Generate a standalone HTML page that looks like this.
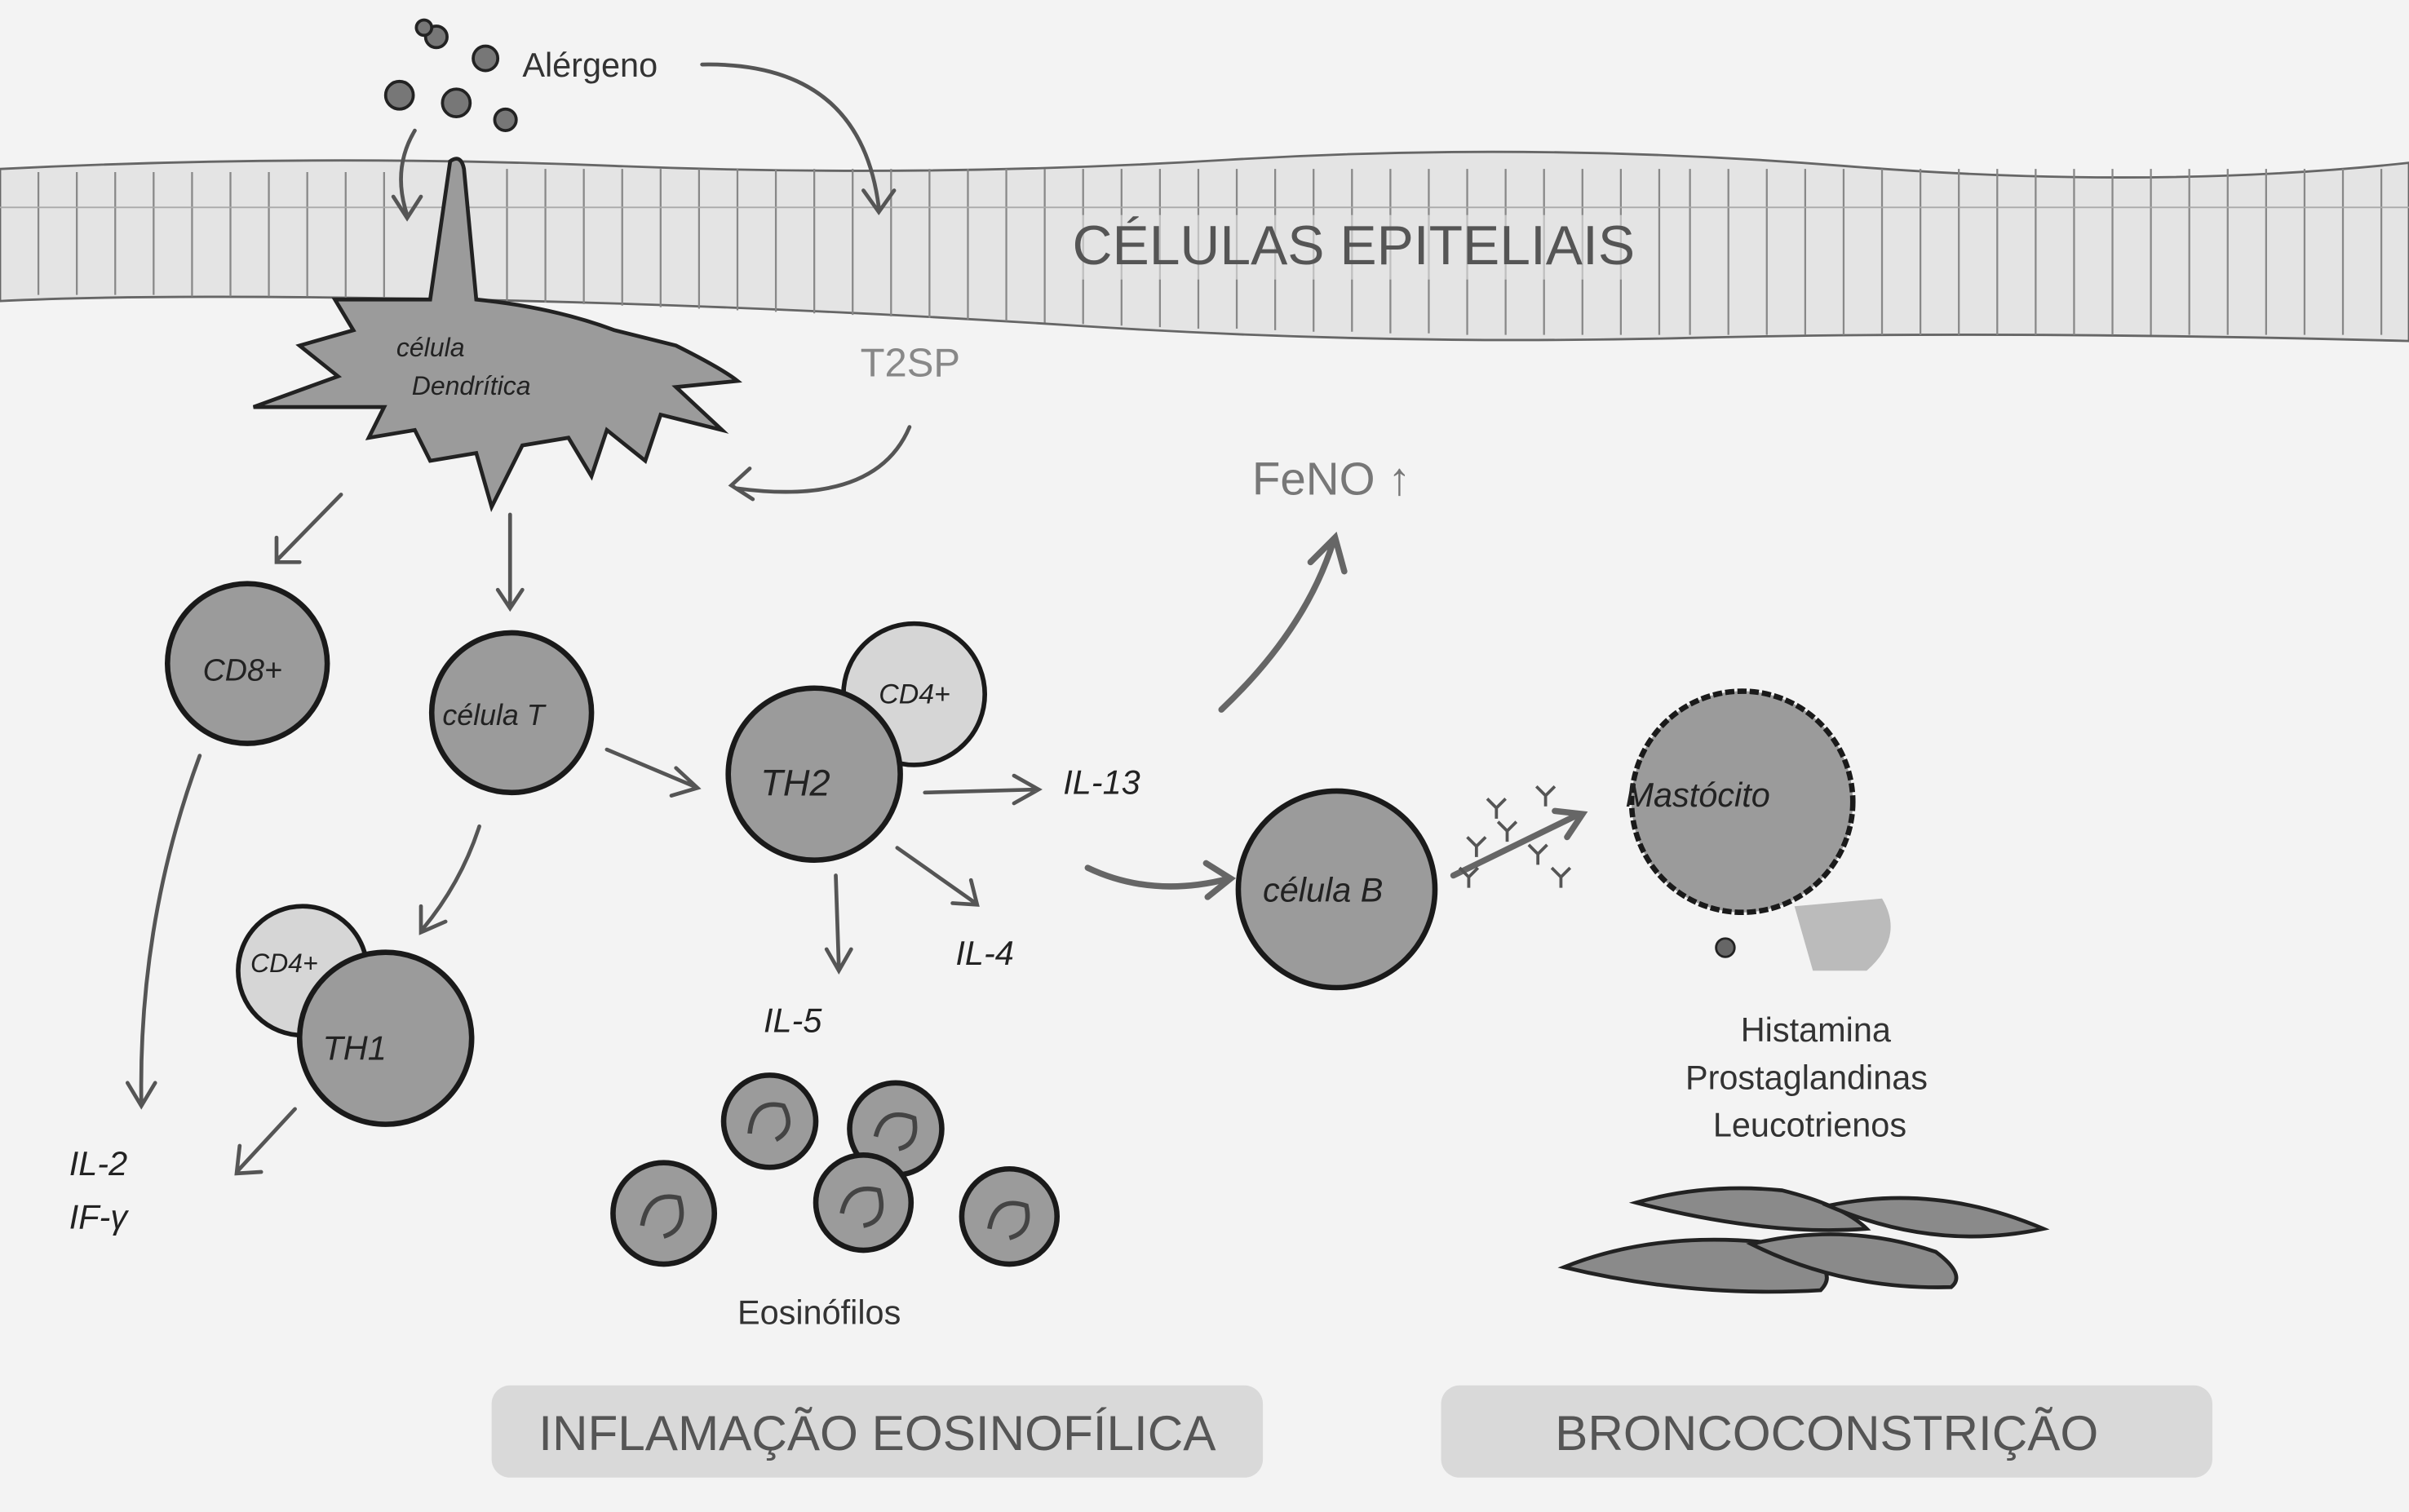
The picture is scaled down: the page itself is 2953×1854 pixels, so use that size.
<!DOCTYPE html>
<html><head><meta charset="utf-8"><style>
html,body{margin:0;padding:0;background:#f3f3f3;}
svg{display:block;}
.h{font-family:"Liberation Sans",sans-serif;fill:#333;}
.hw{font-family:"Liberation Sans",sans-serif;fill:#222;font-style:italic;}
.c{fill:#9b9b9b;stroke:#1a1a1a;stroke-width:3.5;}
.cl{fill:#d6d6d6;stroke:#1a1a1a;stroke-width:3;}
.a{fill:none;stroke:#555;stroke-width:2.5;stroke-linecap:round;}
.ad{fill:none;stroke:#666;stroke-width:4;stroke-linecap:round;}
</style></head><body>
<svg width="2953" height="1854" viewBox="0 0 1568 984.4" preserveAspectRatio="none" xmlns="http://www.w3.org/2000/svg">
<rect width="1568" height="985" fill="#f3f3f3"/>
<!-- epithelium -->
<path d="M0,110 Q200,100 400,108 T800,104 T1200,108 T1568,106 L1568,222 Q1300,215 1100,220 T700,212 T300,195 T0,196 Z" fill="#e4e4e4" stroke="#666" stroke-width="1.5"/>
<g stroke="#888" stroke-width="1.2">
<path d="M25,112V192M50,112V192M75,112V192M100,112V192M125,112V193M150,112V193M175,112V193M200,112V193M225,112V194M250,112V194M330,110V196M355,110V197M380,110V198M405,110V199M430,110V200M455,110V201M480,110V202M505,110V203M530,110V204M555,110V205M580,110V206M605,110V207M630,110V208M655,110V209M680,110V210M705,110V211M730,110V212M755,110V213M780,110V214M805,110V214M830,110V215M855,110V216M880,110V216M905,110V217M930,110V217M955,110V218M980,110V218M1005,110V218M1030,110V218M1055,110V218M1080,110V218M1100,110V218M1125,110V218M1150,110V218M1175,110V218M1200,110V218M1225,110V218M1250,110V218M1275,110V218M1300,110V218M1325,110V218M1350,110V218M1375,110V218M1400,110V218M1425,110V218M1450,110V218M1475,110V218M1500,110V218M1525,110V218M1550,110V218"/>
<path d="M0,135 H1568" stroke="#aaa" stroke-width="1"/>
</g>
<rect x="690" y="140" width="385" height="42" fill="#e4e4e4" opacity="0.6"/>
<text x="698" y="172" font-family="Liberation Sans,sans-serif" font-size="36" style="fill:#555">CÉLULAS EPITELIAIS</text>
<!-- allergen -->
<g fill="#777" stroke="#222" stroke-width="2">
<circle cx="284" cy="24" r="7"/><circle cx="316" cy="38" r="8"/><circle cx="260" cy="62" r="9"/><circle cx="297" cy="67" r="9"/><circle cx="329" cy="78" r="7"/><circle cx="276" cy="18" r="5"/>
</g>
<text x="340" y="50" class="h" font-size="22">Alérgeno</text>
<path class="a" d="M457,42 Q560,40 572,135 M562,124 L572,138 L582,124"/>
<path class="a" d="M270,85 Q255,110 265,140 M256,128 L265,142 L274,128"/>
<!-- dendritic cell -->
<path d="M293,105 Q300,100 302,110 L310,195 Q360,200 400,215 L440,225 Q470,240 480,248 L440,252 L470,280 L430,270 L420,300 L395,280 L385,310 L370,285 L340,290 L320,330 L310,295 L280,300 L270,280 L240,285 L250,265 L165,265 L220,245 L195,225 L230,215 L218,195 L280,195 Z" fill="#9b9b9b" stroke="#222" stroke-width="2.5"/>
<text x="258" y="232" class="hw" font-size="17">célula</text>
<text x="268" y="257" class="hw" font-size="17">Dendrítica</text>
<text x="560" y="245" font-family="Liberation Sans,sans-serif" font-size="26" fill="#888">T2SP</text>
<path class="a" d="M592,278 Q570,330 480,318 M488,305 L476,316 L490,325"/>
<text x="815" y="322" font-family="Liberation Sans,sans-serif" font-size="30" fill="#777">FeNO ↑</text>
<!-- arrows from DC -->
<path class="a" d="M222,322 L180,365 M180,350 L180,366 L195,366"/>
<path class="a" d="M332,335 L332,395 M324,384 L332,396 L340,384"/>
<!-- CD8 -->
<circle class="c" cx="161" cy="432" r="52"/>
<text x="132" y="443" class="hw" font-size="20">CD8+</text>
<path class="a" d="M130,492 Q90,600 92,718 M83,705 L92,720 L101,705"/>
<text x="45" y="765" class="hw" font-size="22">IL-2</text>
<text x="45" y="800" class="hw" font-size="22">IF-γ</text>
<!-- celula T -->
<circle class="c" cx="333" cy="464" r="52"/>
<text x="288" y="472" class="hw" font-size="19">célula T</text>
<path class="a" d="M312,538 Q300,575 275,605 M274,590 L274,607 L290,600"/>
<path class="a" d="M395,488 L452,512 M440,500 L454,513 L437,518"/>
<!-- Th1 -->
<circle class="cl" cx="197" cy="632" r="42"/>
<text x="163" y="633" class="hw" font-size="17">CD4+</text>
<circle class="c" cx="251" cy="676" r="56"/>
<text x="210" y="690" class="hw" font-size="22">TH1</text>
<path class="a" d="M192,722 L155,762 M156,746 L154,764 L170,763"/>
<!-- Th2 -->
<circle class="cl" cx="595" cy="452" r="46"/>
<text x="572" y="458" class="hw" font-size="18">CD4+</text>
<circle class="c" cx="530" cy="504" r="56"/>
<text x="495" y="518" class="hw" font-size="24">TH2</text>
<path class="a" d="M602,516 L675,514 M660,505 L676,514 L660,523" stroke-width="3"/>
<text x="692" y="517" class="hw" font-size="22">IL-13</text>
<path class="a" d="M584,552 L635,588 M620,588 L636,589 L632,573"/>
<text x="622" y="628" class="hw" font-size="22">IL-4</text>
<path class="a" d="M544,570 L546,630 M538,618 L546,632 L554,618"/>
<text x="497" y="672" class="hw" font-size="22">IL-5</text>
<path class="ad" d="M795,462 Q850,410 868,352 M853,366 L869,350 L875,372"/>
<path class="ad" d="M708,565 Q750,585 800,572 M785,562 L801,572 L786,584"/>
<!-- eosinophils -->
<g>
<circle class="c" cx="501" cy="730" r="30" stroke-width="3"/><circle class="c" cx="583" cy="735" r="30" stroke-width="3"/>
<circle class="c" cx="562" cy="783" r="31" stroke-width="3"/><circle class="c" cx="432" cy="790" r="33" stroke-width="3"/>
<circle class="c" cx="657" cy="792" r="31" stroke-width="3"/>
<g fill="none" stroke="#444" stroke-width="3">
<path d="M488,738 Q490,715 510,720 Q518,735 505,742"/><path d="M570,740 Q575,720 595,728 Q598,745 585,748"/>
<path d="M548,790 Q552,770 572,775 Q578,795 562,798"/><path d="M418,798 Q422,775 442,780 Q448,800 432,805"/>
<path d="M644,800 Q648,778 668,785 Q672,802 657,806"/>
</g></g>
<text x="480" y="862" class="h" font-size="22">Eosinófilos</text>
<!-- celula B -->
<circle class="c" cx="870" cy="579" r="64"/>
<text x="822" y="587" class="hw" font-size="22">célula B</text>
<path class="ad" d="M946,570 L1028,530 M1012,528 L1030,530 L1020,545"/>
<g stroke="#555" stroke-width="2" fill="none">
<path d="M955,545 l6,6 l6,-6 M961,551 v7"/><path d="M975,535 l6,6 l6,-6 M981,541 v7"/><path d="M1000,512 l6,6 l6,-6 M1006,518 v7"/>
<path d="M950,565 l6,6 l6,-6 M956,571 v7"/><path d="M995,550 l6,6 l6,-6 M1001,556 v7"/><path d="M1010,565 l6,6 l6,-6 M1016,571 v7"/>
<path d="M968,520 l6,6 l6,-6 M974,526 v7"/>
</g>
<!-- mastocyte -->
<path d="M1168,590 L1225,585 Q1240,610 1215,632 L1180,632 Z" fill="#bbb"/>
<circle cx="1134" cy="522" r="72" class="c" stroke-width="4" stroke-dasharray="6 2"/>
<text x="1058" y="525" class="hw" font-size="22">Mastócito</text>
<circle cx="1123" cy="617" r="6" fill="#666" stroke="#222" stroke-width="1.5"/>
<text x="1133" y="678" class="h" font-size="22">Histamina</text>
<text x="1097" y="709" class="h" font-size="22">Prostaglandinas</text>
<text x="1115" y="740" class="h" font-size="22">Leucotrienos</text>
<!-- smooth muscle -->
<g fill="#8a8a8a" stroke="#222" stroke-width="2.5">
<path d="M1065,783 Q1110,770 1160,775 Q1200,785 1215,800 Q1150,805 1065,783Z"/>
<path d="M1190,785 Q1260,770 1330,800 Q1260,815 1190,785Z"/>
<path d="M1018,825 Q1080,800 1160,810 Q1200,825 1185,840 Q1100,845 1018,825Z"/>
<path d="M1140,810 Q1200,795 1260,815 Q1280,830 1270,838 Q1200,840 1140,810Z"/>
</g>
<!-- footer labels -->
<rect x="320" y="902" width="502" height="60" rx="12" fill="#d9d9d9"/>
<text x="571" y="944" text-anchor="middle" font-family="Liberation Sans,sans-serif" font-size="32" style="fill:#555">INFLAMAÇÃO EOSINOFÍLICA</text>
<rect x="938" y="902" width="502" height="60" rx="12" fill="#d9d9d9"/>
<text x="1189" y="944" text-anchor="middle" font-family="Liberation Sans,sans-serif" font-size="32" style="fill:#555">BRONCOCONSTRIÇÃO</text>
</svg>
</body></html>
